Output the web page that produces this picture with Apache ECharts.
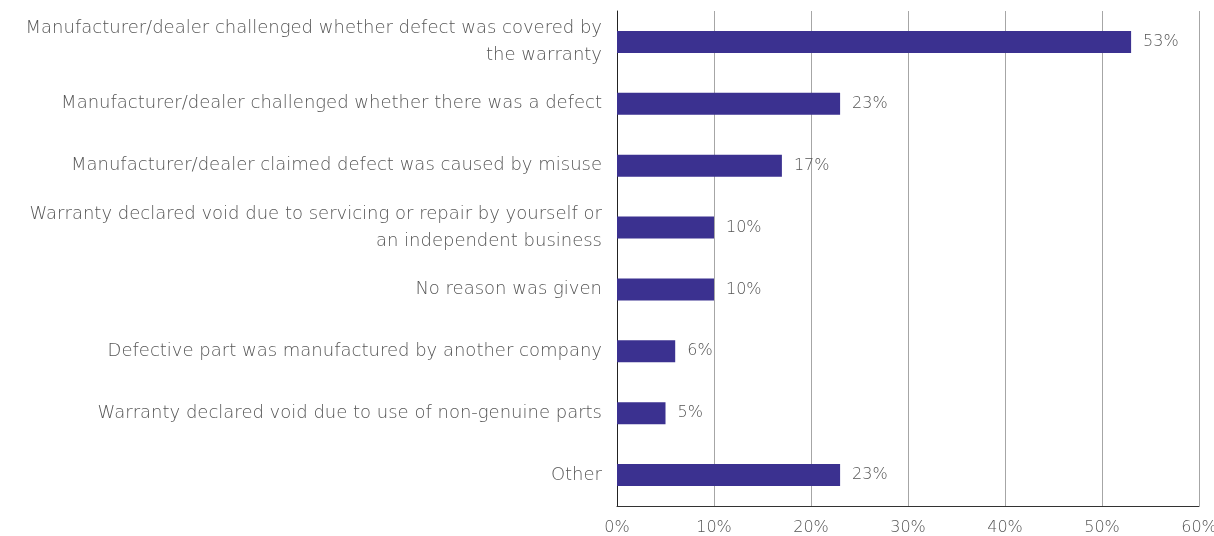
<!DOCTYPE html>
<html>
<head>
<meta charset="utf-8">
<script src="https://cdn.jsdelivr.net/npm/echarts@6/dist/echarts.min.js"></script>
<style>
  html, body { margin: 0; padding: 0; background: #fff; }
  #chart { width: 1214px; height: 536px; }
</style>
</head>
<body>
<div id="chart"></div>
<script>
// Reasons given when a warranty claim was disputed (share of respondents, %)
const categories = [
  'Manufacturer/dealer challenged whether defect was covered by\nthe warranty',
  'Manufacturer/dealer challenged whether there was a defect',
  'Manufacturer/dealer claimed defect was caused by misuse',
  'Warranty declared void due to servicing or repair by yourself or\nan independent business',
  'No reason was given',
  'Defective part was manufactured by another company',
  'Warranty declared void due to use of non-genuine parts',
  'Other'
];
const values = [53, 23, 17, 10, 10, 6, 5, 23];
const xTicks = [0, 10, 20, 30, 40, 50, 60];

const textColor = '#555555';
const fontFamily = '"DejaVu Sans", sans-serif';

const chart = echarts.init(document.getElementById('chart'));
chart.setOption({
  animation: false,
  grid: { left: 617, right: 15, top: 11, bottom: 30, containLabel: false, outerBoundsMode: 'none' },
  xAxis: {
    type: 'value',
    min: xTicks[0],
    max: xTicks[xTicks.length - 1],
    interval: 10,
    axisLine: { show: true, lineStyle: { color: '#333', width: 1 } },
    axisTick: { show: false },
    splitLine: { show: true, lineStyle: { color: '#a6a6a6', width: 1 } },
    axisLabel: {
      formatter: v => v + '%',
      color: textColor,
      fontSize: 16,
      fontFamily,
      fontWeight: 200,
      margin: 14
    }
  },
  yAxis: {
    type: 'category',
    data: categories,
    inverse: true,
    axisLine: { show: true, lineStyle: { color: '#222', width: 1 } },
    axisTick: { show: false },
    axisLabel: {
      color: textColor,
      fontSize: 18,
      fontFamily,
      fontWeight: 200,
      margin: 15,
      lineHeight: 27,
      padding: [3, 0, 0, 0],
      align: 'right'
    }
  },
  series: [{
    type: 'bar',
    data: values,
    barWidth: 22,
    itemStyle: { color: '#3b3190' },
    label: {
      show: true,
      position: 'right',
      distance: 12,
      formatter: p => p.value + '%',
      color: textColor,
      fontSize: 16,
      fontFamily,
      fontWeight: 200,
      padding: [3, 0, 0, 0]
    }
  }]
});
</script>
</body>
</html>
